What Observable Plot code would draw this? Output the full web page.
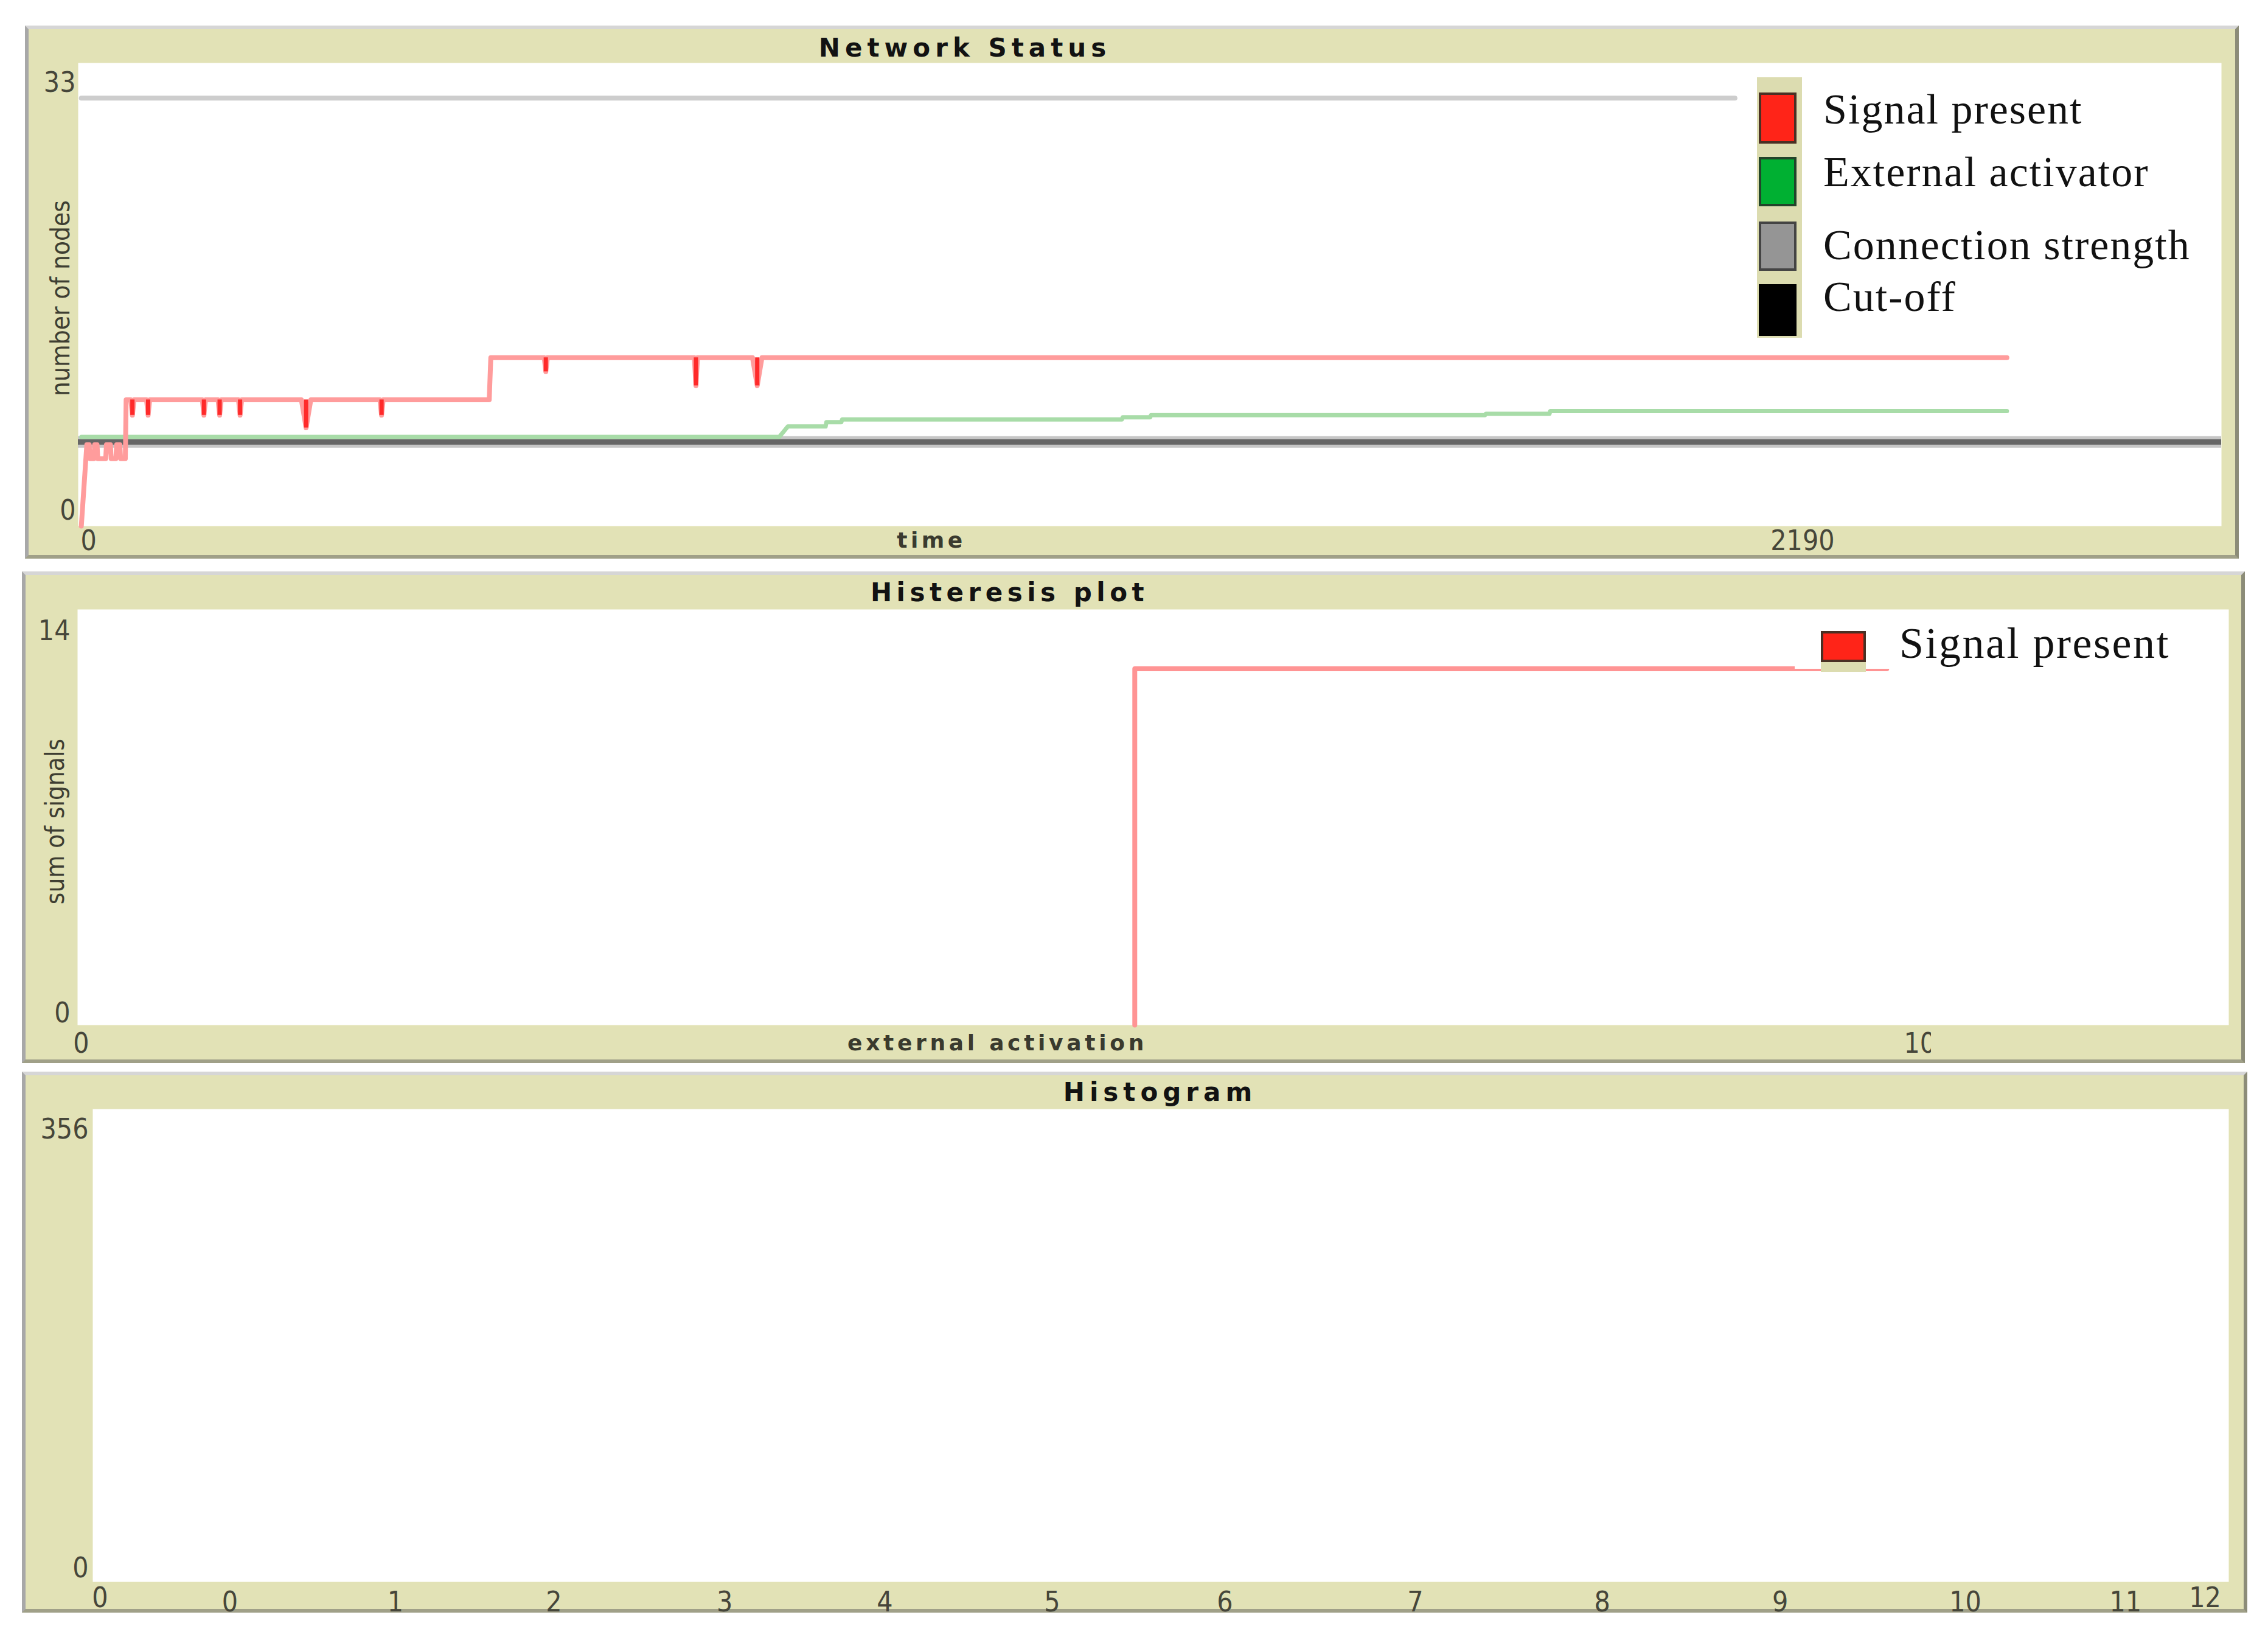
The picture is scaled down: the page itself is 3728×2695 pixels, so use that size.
<!DOCTYPE html>
<html>
<head>
<meta charset="utf-8">
<script src="https://cdn.jsdelivr.net/npm/d3@7"></script>
<script src="https://cdn.jsdelivr.net/npm/@observablehq/plot@0.6"></script>
<style>
  html, body { margin: 0; padding: 0; background: #fff; }
  #page { position: relative; width: 3728px; height: 2695px; overflow: hidden; background: #fff; }
  .panel { position: absolute; box-sizing: border-box; border-style: solid; border-width: 6px;
           border-color: #d6d6d6 #8c8c78 #a0a088 #a8a8a8; background: #e2e2b6; }
  .panel > svg { position: absolute; left: 0; top: 0; }
  .abs { position: absolute; }
  .legtext { position: absolute; font-family: "Liberation Serif", "DejaVu Serif", serif; font-size: 70px;
             line-height: 70px; height: 70px; color: #111; letter-spacing: 2px; white-space: nowrap; }
  .sw { position: absolute; box-sizing: border-box; border: 4px solid #4a3a30; }
</style>
</head>
<body>
<div id="page"></div>
<script>
// ---------------- DATA ----------------
// Network Status (number of nodes vs time)
const netTimeTicks = [0, 2190];
const netNodeTicks = [0, 33];
const signalTime  = [0, 7, 10, 11, 16, 17, 20, 21, 31, 32, 37, 38, 44, 45, 49, 50, 56, 57,
                     63, 65, 67, 83, 85, 87, 154, 156, 158, 174, 176, 178, 200, 202, 204,
                     280, 286, 292, 380, 382, 384, 519, 521, 589, 591, 593, 780, 782, 784,
                     854, 860, 866, 2450];
const signalNodes = [0, 5.8, 5.8, 4.8, 4.8, 5.8, 5.8, 4.8, 4.8, 5.8, 5.8, 4.8, 4.8, 5.8, 5.8, 4.8, 4.8, 9,
                     9, 7.9, 9, 9, 7.9, 9, 9, 7.9, 9, 9, 7.9, 9, 9, 7.9, 9,
                     9, 7.0, 9, 9, 7.9, 9, 9, 12, 12, 11, 12, 12, 10, 12,
                     12, 10, 12, 12];
const signalDipTime = [65, 85, 156, 176, 202, 286, 382, 591, 782, 860];
const signalDipLow  = [7.9, 7.9, 7.9, 7.9, 7.9, 7.0, 7.9, 11, 10, 10];
const signalDipBase = [9, 9, 9, 9, 9, 9, 9, 12, 12, 12];
const activatorTime  = [0, 888, 899, 947, 948, 967, 968, 1324, 1325, 1360, 1361, 1786, 1787, 1868, 1869, 2450];
const activatorNodes = [6.35, 6.35, 7.1, 7.1, 7.4, 7.4, 7.6, 7.6, 7.75, 7.75, 7.9, 7.9, 8.0, 8.0, 8.2, 8.2];
const strengthTime  = [0, 2104];
const strengthNodes = [30.5, 30.5];
const cutoffNodes = 6;
const netSeries = ["Signal present", "External activator", "Connection strength", "Cut-off"];
const netColors = ["#ff2418", "#00b032", "#959595", "#000000"];

// Histeresis plot (sum of signals vs external activation)
const extTicks = [0, 10];
const sumTicks = [0, 14];
const hystActivation = [5.75, 5.75, 9.84];
const hystSum        = [0, 12, 12];

// Histogram (empty)
const countTicks = [0, 356];
const histEdgeTicks = [0, 12];
const binLabels = ["0", "1", "2", "3", "4", "5", "6", "7", "8", "9", "10", "11"];
const binLabelPos = [0.77, 1.70, 2.59, 3.55, 4.45, 5.39, 6.36, 7.43, 8.48, 9.48, 10.52, 11.42];

// ---------------- STYLE ----------------
const TAN = "#e2e2b6";
const INK = "#46463a";
const TICKFONT = '"DejaVu Sans Condensed", "Liberation Sans Narrow", "DejaVu Sans", sans-serif';
const TITLEFONT = '"DejaVu Sans", "Liberation Sans", sans-serif';
const page = document.getElementById("page");

function fmt(d) { return String(d); }
function title(text, dx, dy) {
  return Plot.text([text], {text: d => d, frameAnchor: "top", lineAnchor: "middle", textAnchor: "middle", dx, dy,
    fontFamily: TITLEFONT, fontWeight: "bold", fontSize: 42, fill: "#121212"});
}
function xTitle(text, dx, dy) {
  return Plot.text([text], {text: d => d, frameAnchor: "bottom", lineAnchor: "middle", textAnchor: "middle", dx, dy,
    fontFamily: TITLEFONT, fontWeight: "bold", fontSize: 36, fill: "#3a3a2e"});
}
function yTitle(text, dx, dy) {
  return Plot.text([text], {text: d => d, frameAnchor: "left", lineAnchor: "middle", textAnchor: "middle", rotate: -90, dx, dy,
    fontFamily: TICKFONT, fontSize: 42, fill: "#3e3e32"});
}
function spacing(svg, str, px) {
  svg.querySelectorAll("text").forEach(t => {
    if (t.textContent === str) { t.setAttribute("letter-spacing", px); t.style.letterSpacing = px + "px"; }
  });
}
function panel(left, top, w, h, svg) {
  const div = document.createElement("div");
  div.className = "panel";
  Object.assign(div.style, {left: left + "px", top: top + "px", width: w + "px", height: h + "px"});
  div.appendChild(svg);
  page.appendChild(div);
}
function abs(cls, left, top, w, h, css, text) {
  const d = document.createElement("div");
  d.className = cls;
  Object.assign(d.style, {left: left + "px", top: top + "px"}, w ? {width: w + "px"} : {}, h ? {height: h + "px"} : {}, css || {});
  if (text) d.textContent = text;
  page.appendChild(d);
  return d;
}
const baseStyle = {background: TAN, fontFamily: TICKFONT, fontSize: "46px", overflow: "visible"};

// ---------------- PANEL 1: Network Status ----------------
const sig = signalTime.map((t, i) => ({t, v: signalNodes[i]}));
const dips = signalDipTime.map((t, i) => ({t, low: signalDipLow[i], base: signalDipBase[i]}));
const act = activatorTime.map((t, i) => ({t, v: activatorNodes[i]}));
const str = strengthTime.map((t, i) => ({t, v: strengthNodes[i]}));

const p1 = Plot.plot({
  width: 3627, height: 864,
  marginLeft: 81, marginRight: 23, marginTop: 55, marginBottom: 48,
  x: {domain: [-4, 2723]},
  y: {domain: [0, 33]},
  style: baseStyle,
  marks: [
    Plot.frame({fill: "white", stroke: "none"}),
    Plot.line(str, {x: "t", y: "v", stroke: "#cdcdcd", strokeWidth: 8}),
    Plot.ruleY([cutoffNodes], {stroke: "#c6c6c6", strokeWidth: 19}),
    Plot.ruleY([cutoffNodes], {stroke: "#666666", strokeWidth: 9}),
    Plot.line(act, {x: "t", y: "v", stroke: "#a8dca8", strokeWidth: 7}),
    Plot.line(sig, {x: "t", y: "v", stroke: "#ff9c9c", strokeWidth: 8}),
    Plot.ruleX(dips, {x: "t", y1: "low", y2: "base", stroke: "#ff2a2a", strokeWidth: 7}),
    Plot.axisY([netNodeTicks[1]], {anchor: "left", tickSize: 0, tickPadding: 4, dy: 33, label: null, tickFormat: fmt, fill: INK}),
    Plot.axisY([netNodeTicks[0]], {anchor: "left", tickSize: 0, tickPadding: 4, dy: -25, label: null, tickFormat: fmt, fill: INK}),
    Plot.axisX([netTimeTicks[0]], {anchor: "bottom", tickSize: 0, tickPadding: 7, dx: 12, label: null, tickFormat: fmt, fill: INK}),
    Plot.axisX([netTimeTicks[1]], {anchor: "bottom", tickSize: 0, tickPadding: 7, label: null, tickFormat: fmt, fill: INK}),
    title("Network Status", -304, -24),
    xTitle("time", -359, 24),
    yTitle("number of nodes", -28, 6)
  ]
});
spacing(p1, "Network Status", 8);
spacing(p1, "time", 5.5);
panel(41, 42, 3639, 876, p1);

// legend 1
abs("abs", 2888, 127, 74, 428, {background: "#dcdcb0"});
const swTops = [152, 258, 364, 467], swH = [84, 81, 81, 85];
const swBorders = ["#4a3024", "#22442a", "#444444", "#000000"];
const txtTops = [145, 248, 368, 453];
netSeries.forEach((name, i) => {
  abs("sw", 2891, swTops[i], 62, swH[i], {background: netColors[i], borderColor: swBorders[i]});
  abs("legtext", 2997, txtTops[i], null, null, {}, name);
});

// ---------------- PANEL 2: Histeresis plot ----------------
const hyst = hystActivation.map((a, i) => ({a, s: hystSum[i]}));
const p2 = Plot.plot({
  width: 3642, height: 796,
  marginLeft: 85, marginRight: 21, marginTop: 56, marginBottom: 57,
  x: {domain: [0, 11.7]},
  y: {domain: [0, 14]},
  style: baseStyle,
  marks: [
    Plot.frame({fill: "white", stroke: "none"}),
    Plot.line(hyst, {x: "a", y: "s", stroke: "#ff9494", strokeWidth: 8}),
    Plot.axisY([sumTicks[1]], {anchor: "left", tickSize: 0, tickPadding: 12, dy: 36, label: null, tickFormat: fmt, fill: INK}),
    Plot.axisY([sumTicks[0]], {anchor: "left", tickSize: 0, tickPadding: 12, dy: -19, label: null, tickFormat: fmt, fill: INK}),
    Plot.axisX([extTicks[0]], {anchor: "bottom", tickSize: 0, tickPadding: 13, dx: 6, label: null, tickFormat: fmt, fill: INK}),
    Plot.axisX([extTicks[1]], {anchor: "bottom", tickSize: 0, tickPadding: 13, dx: 6, label: null, tickFormat: fmt, fill: INK}),
    title("Histeresis plot", -236, -27),
    xTitle("external activation", -256, 30),
    yTitle("sum of signals", -36, 7)
  ]
});
spacing(p2, "Histeresis plot", 7.5);
spacing(p2, "external activation", 5.7);
panel(36, 939, 3654, 808, p2);

// pasted legend region over panel 2
abs("abs", 3174, 1690, 489, 48, {background: TAN});
abs("abs", 2950, 1003, 713, 96, {background: "#ffffff"});
abs("abs", 2993, 1037, 74, 67, {background: "#dcdcb0"});
abs("sw", 2993, 1037, 74, 51, {background: netColors[0], borderColor: swBorders[0]});
abs("legtext", 3122, 1022, null, null, {fontSize: "72px", letterSpacing: "2.5px"}, netSeries[0]);

// ---------------- PANEL 3: Histogram ----------------
const p3 = Plot.plot({
  width: 3646, height: 877,
  marginLeft: 110, marginRight: 25, marginTop: 55, marginBottom: 45,
  x: {domain: [0, 12]},
  y: {domain: [0, 356]},
  style: baseStyle,
  marks: [
    Plot.frame({fill: "white", stroke: "none"}),
    Plot.axisY([countTicks[1]], {anchor: "left", tickSize: 0, tickPadding: 7, dy: 34, label: null, tickFormat: fmt, fill: INK}),
    Plot.axisY([countTicks[0]], {anchor: "left", tickSize: 0, tickPadding: 7, dy: -22, label: null, tickFormat: fmt, fill: INK}),
    Plot.axisX([histEdgeTicks[0]], {anchor: "bottom", tickSize: 0, tickPadding: 9, dx: 12, label: null, tickFormat: fmt, fill: INK}),
    Plot.axisX([histEdgeTicks[1]], {anchor: "bottom", tickSize: 0, tickPadding: 9, dx: -39, label: null, tickFormat: fmt, fill: INK}),
    Plot.axisX(binLabelPos, {anchor: "bottom", tickSize: 0, tickPadding: 16, label: null,
      tickFormat: d => binLabels[binLabelPos.indexOf(d)], fill: INK}),
    title("Histogram", -1, -27)
  ]
});
spacing(p3, "Histogram", 8);
panel(36, 1761, 3658, 889, p3);
</script>
</body>
</html>
